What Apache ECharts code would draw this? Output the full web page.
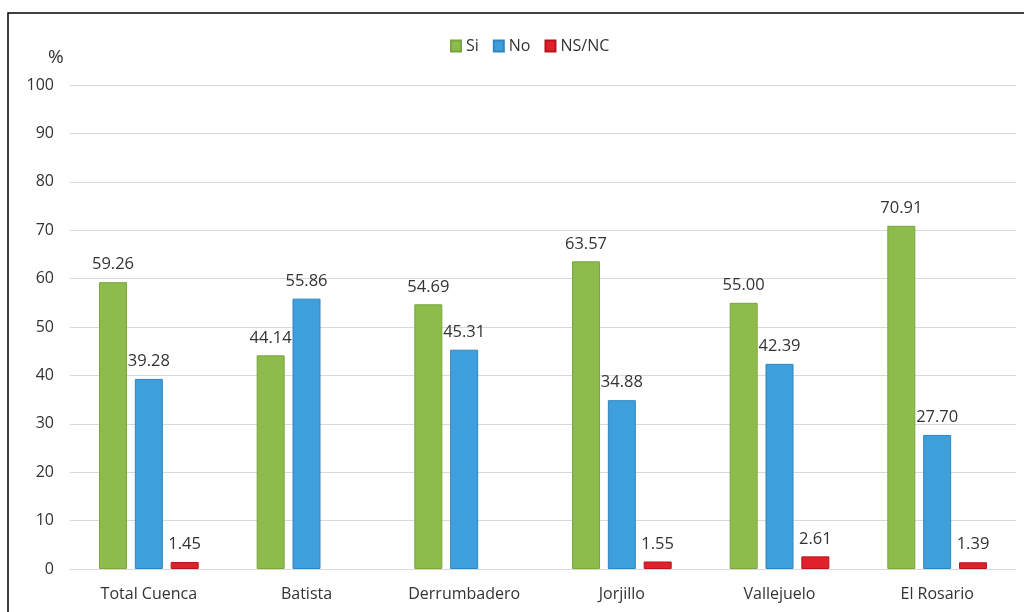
<!DOCTYPE html>
<html><head><meta charset="utf-8">
<script src="https://cdn.jsdelivr.net/npm/echarts@6/dist/echarts.min.js"></script>
<style>html,body{margin:0;padding:0;background:#fff}#c{width:1024px;height:612px}</style>
</head><body><div id="c"></div>
<script>
const categories = ["Total Cuenca","Batista","Derrumbadero","Jorjillo","Vallejuelo","El Rosario"];
const si = [59.26,44.14,54.69,63.57,55.00,70.91];
const no = [39.28,55.86,45.31,34.88,42.39,27.70];
const nsnc = [1.45,null,null,1.55,2.61,1.39];
const yTicks = {min:0,max:100,interval:10};

const font = "'Open Sans','Noto Sans',sans-serif";
const chart = echarts.init(document.getElementById('c'));
const lbl = {show:true,position:'top',color:'#333',fontSize:16.5,fontFamily:font,distance:9,
  formatter:p=>p.value==null?'':Number(p.value).toFixed(2)};
chart.setOption({
  animation:false,
  graphic:[{type:'rect',shape:{x:8,y:13,width:1030,height:620},style:{fill:'none',stroke:'#000',lineWidth:1.5}},
    {type:'text',left:48,top:48,style:{text:'%',fontSize:19,fill:'#333',fontFamily:font}}],
  legend:{top:33,left:445,itemWidth:10,itemHeight:11,itemGap:14,
    textStyle:{fontSize:16,color:'#333',fontFamily:font},icon:'rect'},
  grid:{left:70,right:8,top:85,bottom:43,containLabel:false},
  xAxis:{type:'category',data:categories,
    axisLine:{lineStyle:{color:'#d9d9d9'}},axisTick:{show:false},
    axisLabel:{fontSize:16,color:'#333',fontFamily:font,margin:17}},
  yAxis:{type:'value',min:yTicks.min,max:yTicks.max,interval:yTicks.interval,
    axisLine:{show:false},axisTick:{show:false},
    splitLine:{lineStyle:{color:'#d9d9d9'}},
    axisLabel:{fontSize:16,color:'#333',fontFamily:font,margin:16}},
  series:[
    {name:'Si',type:'bar',data:si,itemStyle:{color:'#8DBB4C',borderColor:'#7aa63f',borderWidth:1},label:lbl,barWidth:28,barGap:'28%'},
    {name:'No',type:'bar',data:no,itemStyle:{color:'#3E9FDC',borderColor:'#2f86c0',borderWidth:1},label:lbl,barWidth:28,barGap:'28%'},
    {name:'NS/NC',type:'bar',data:nsnc,itemStyle:{color:'#E0202A',borderColor:'#b8141c',borderWidth:1},label:lbl,barWidth:28,barGap:'28%'}
  ]
});
</script></body></html>
